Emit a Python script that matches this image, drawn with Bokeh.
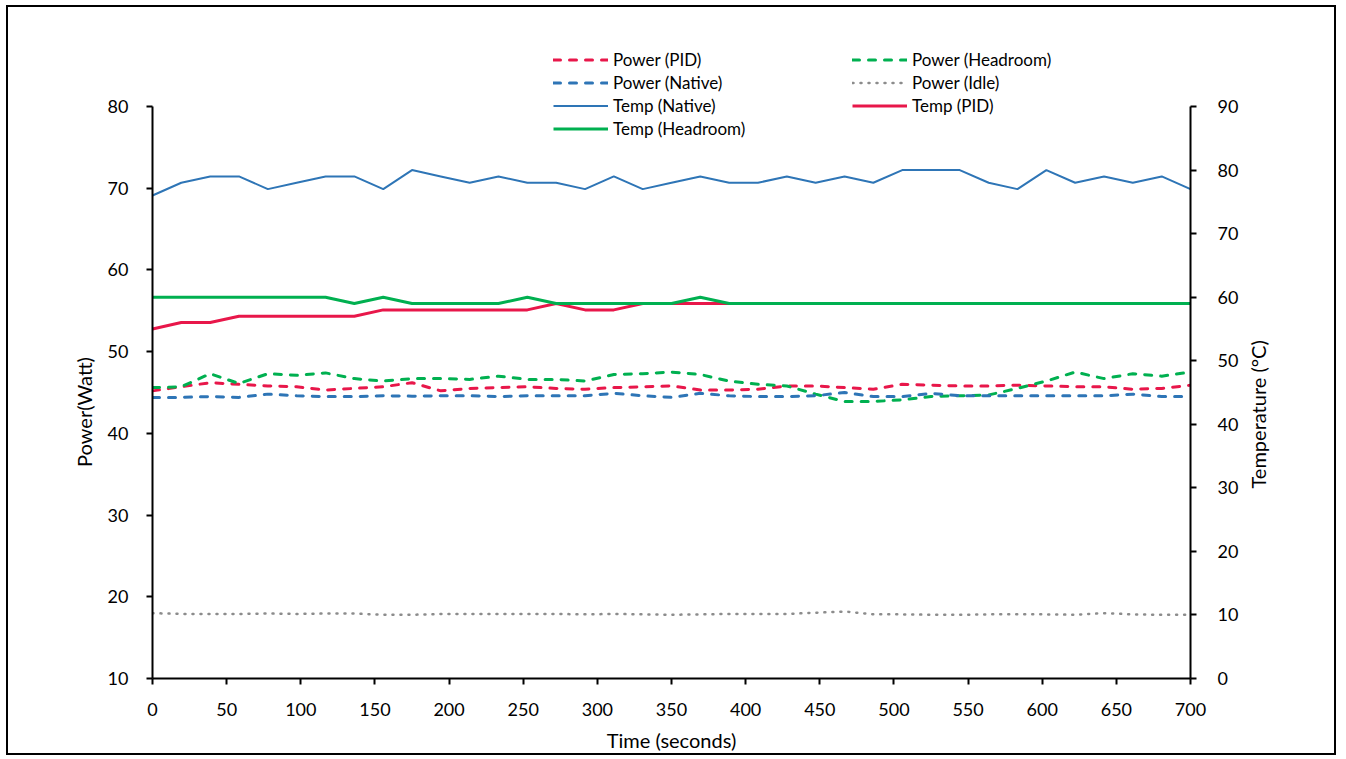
import math
from bokeh.plotting import figure
from bokeh.models import Range1d, LinearAxis, Legend, LegendItem, SingleIntervalTicker
from bokeh.embed import file_html
from bokeh.resources import INLINE

# ---- data ----
time_s = [0, 19.4, 38.9, 58.3, 77.8, 97.2, 116.7, 136.1, 155.6, 175, 194.4, 213.9,
          233.3, 252.8, 272.2, 291.7, 311.1, 330.6, 350, 369.4, 388.9, 408.3, 427.8,
          447.2, 466.7, 486.1, 505.6, 525, 544.4, 563.9, 583.3, 602.8, 622.2, 641.7,
          661.1, 680.6, 700]

power_pid = [45.2, 45.7, 46.2, 46.0, 45.8, 45.7, 45.3, 45.5, 45.7, 46.2, 45.2, 45.5,
             45.6, 45.7, 45.5, 45.4, 45.6, 45.7, 45.8, 45.3, 45.3, 45.4, 45.8, 45.8,
             45.6, 45.4, 46.0, 45.9, 45.8, 45.8, 45.9, 45.8, 45.7, 45.7, 45.4, 45.5, 45.9]
power_headroom = [45.6, 45.7, 47.3, 46.1, 47.3, 47.1, 47.4, 46.7, 46.4, 46.7, 46.7, 46.6,
                  47.0, 46.6, 46.6, 46.4, 47.2, 47.3, 47.5, 47.2, 46.4, 46.0, 45.8, 44.8,
                  43.9, 43.9, 44.1, 44.5, 44.6, 44.7, 45.5, 46.4, 47.5, 46.7, 47.3, 47.0, 47.5]
power_native = [44.4, 44.4, 44.5, 44.4, 44.8, 44.6, 44.5, 44.5, 44.6, 44.55, 44.6, 44.6,
                44.5, 44.6, 44.6, 44.6, 44.9, 44.6, 44.4, 44.9, 44.6, 44.5, 44.5, 44.6,
                45.0, 44.5, 44.5, 44.9, 44.6, 44.6, 44.6, 44.6, 44.6, 44.6, 44.8, 44.5, 44.5]
power_idle = [18.0, 17.9, 17.9, 17.9, 17.95, 17.9, 17.95, 17.95, 17.8, 17.8, 17.9, 17.9,
              17.9, 17.9, 17.9, 17.85, 17.9, 17.85, 17.8, 17.85, 17.9, 17.9, 17.9, 18.05,
              18.2, 17.85, 17.85, 17.8, 17.8, 17.85, 17.85, 17.85, 17.8, 18.0, 17.85, 17.8, 17.8]

temp_native = [76, 78, 79, 79, 77, 78, 79, 79, 77, 80, 79, 78, 79, 78, 78, 77, 79, 77, 78,
               79, 78, 78, 79, 78, 79, 78, 80, 80, 80, 78, 77, 80, 78, 79, 78, 79, 77]
temp_pid = [55, 56, 56, 57, 57, 57, 57, 57, 58, 58, 58, 58, 58, 58, 59, 58, 58, 59, 59,
            59, 59, 59, 59, 59, 59, 59, 59, 59, 59, 59, 59, 59, 59, 59, 59, 59, 59]
temp_headroom = [60, 60, 60, 60, 60, 60, 60, 59, 60, 59, 59, 59, 59, 60, 59, 59, 59, 59, 59,
                 60, 59, 59, 59, 59, 59, 59, 59, 59, 59, 59, 59, 59, 59, 59, 59, 59, 59]

x_ticks = list(range(0, 701, 50))
power_axis = (10, 80)
temp_axis = (0, 90)

RED = "#E8174A"
BLUE = "#2E75B6"
GREEN = "#00B050"
GREY = "#8C8C8C"
FONT = "Lato"

# frame spans from page y=40 to y=678; axes drawn only over 10..80 / 0..90 (y=106..678)
FRAME_H = 638.0
AXIS_H = 572.0
p_top = power_axis[0] + (power_axis[1] - power_axis[0]) * FRAME_H / AXIS_H
t_top = temp_axis[0] + (temp_axis[1] - temp_axis[0]) * FRAME_H / AXIS_H

p = figure(width=1330, height=750, output_backend="svg", toolbar_location=None,
           x_range=Range1d(0, 700), y_range=Range1d(power_axis[0], p_top),
           min_border_left=144, min_border_right=148, min_border_top=33, min_border_bottom=79)
p.margin = (5, 0, 0, 6)
p.styles = {"border": "2px solid #000000"}
p.extra_y_ranges = {"temp": Range1d(temp_axis[0], t_top)}
p.outline_line_color = None
p.xgrid.visible = False
p.ygrid.visible = False
p.background_fill_color = "white"
p.border_fill_color = "white"

r_ppid = p.line(time_s, power_pid, line_color=RED, line_width=3, line_dash="7 9", line_cap="round")
r_phead = p.line(time_s, power_headroom, line_color=GREEN, line_width=3, line_dash="7 9", line_cap="round")
r_pnat = p.line(time_s, power_native, line_color=BLUE, line_width=3, line_dash="7 9", line_cap="round")
r_pidle = p.line(time_s, power_idle, line_color=GREY, line_width=2.5, line_dash="1 7", line_cap="round")
r_tnat = p.line(time_s, temp_native, line_color=BLUE, line_width=2, y_range_name="temp")
r_tpid = p.line(time_s, temp_pid, line_color=RED, line_width=3, y_range_name="temp")
r_thead = p.line(time_s, temp_headroom, line_color=GREEN, line_width=3, y_range_name="temp")

def style_axis(ax):
    ax.axis_line_color = "black"
    ax.axis_line_width = 2
    ax.major_tick_line_color = "black"
    ax.major_tick_line_width = 2
    ax.major_tick_out = 6
    ax.major_tick_in = 0
    ax.minor_tick_line_color = None
    ax.major_label_text_font = FONT
    ax.major_label_text_font_size = "18px"
    ax.major_label_text_color = "black"
    ax.axis_label_text_font = FONT
    ax.axis_label_text_font_size = "20px"
    ax.axis_label_text_font_style = "normal"
    ax.axis_label_text_color = "black"

PAD = "\u2003" * 7  # shifts the centred title down to where the reference has it
LEAD = "\u2003" * 12 + "\u2002"  # lifts the start-anchored right title off the frame bottom

p.xaxis.ticker = x_ticks
p.xaxis.axis_label = "Time (seconds)"
p.xaxis.major_label_standoff = 18
p.xaxis.axis_label_standoff = 9
p.yaxis.ticker = SingleIntervalTicker(interval=10)
p.yaxis.bounds = power_axis
p.yaxis.axis_label = "Power(Watt)" + PAD
p.yaxis.major_label_standoff = 18
p.yaxis.axis_label_standoff = 9
style_axis(p.xaxis[0])
style_axis(p.yaxis[0])

right = LinearAxis(y_range_name="temp", ticker=SingleIntervalTicker(interval=10),
                   bounds=temp_axis, axis_label=LEAD + "Temperature (°C)")
style_axis(right)
right.axis_label_orientation = math.pi / 2
right.axis_label_align = "start"
right.major_label_standoff = 21
right.axis_label_standoff = 17
p.add_layout(right, "right")

def make_legend(items, loc):
    lg = Legend(items=items, location=loc, orientation="vertical")
    lg.glyph_width = 55
    lg.glyph_height = 23
    lg.label_height = 23
    lg.label_standoff = 5
    lg.spacing = 0
    lg.padding = 0
    lg.margin = 0
    lg.border_line_color = None
    lg.background_fill_alpha = 0
    lg.label_text_font = FONT
    lg.label_text_font_size = "17px"
    lg.label_text_color = "black"
    return lg

leg1 = make_legend([
    LegendItem(label="Power (PID)", renderers=[r_ppid]),
    LegendItem(label="Power (Native)", renderers=[r_pnat]),
    LegendItem(label="Temp (Native)", renderers=[r_tnat]),
    LegendItem(label="Temp (Headroom)", renderers=[r_thead]),
], (401, 538))
leg2 = make_legend([
    LegendItem(label="Power (Headroom)", renderers=[r_phead]),
    LegendItem(label="Power (Idle)", renderers=[r_pidle]),
    LegendItem(label="Temp (PID)", renderers=[r_tpid]),
], (700, 561))
p.add_layout(leg1, "center")
p.add_layout(leg2, "center")

open("out.html", "w").write(file_html(p, INLINE))
